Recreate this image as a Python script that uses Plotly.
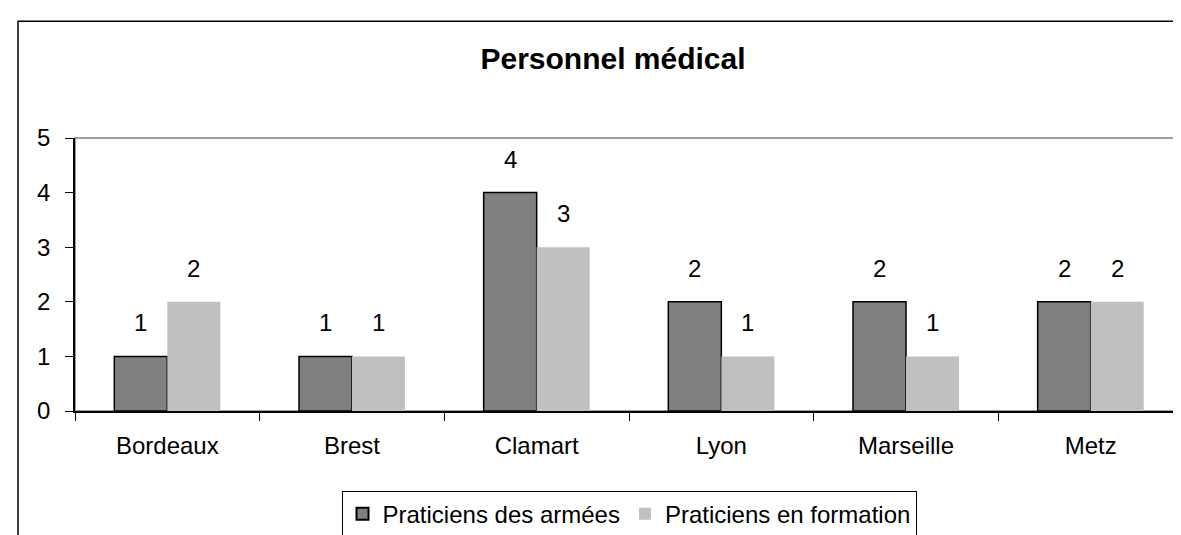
import plotly.graph_objects as go

categories = ["Bordeaux", "Brest", "Clamart", "Lyon", "Marseille", "Metz"]
praticiens_armees = [1, 1, 4, 2, 2, 2]
praticiens_formation = [2, 1, 3, 1, 1, 2]
series_names = ["Praticiens des armées", "Praticiens en formation"]
y_ticks = [0, 1, 2, 3, 4, 5]
title_text = "Personnel médical"

FONT = "Liberation Sans, Arial, sans-serif"
W, H = 1181, 535
L, R, T, B = 67, 6, 130, 127
pw = W - L - R
ph = H - T - B

fig = go.Figure()
fig.add_trace(go.Bar(
    x=categories, y=praticiens_armees, name=series_names[0],
    marker=dict(color="#808080", line=dict(color="#000000", width=1.5)),
))
fig.add_trace(go.Bar(
    x=categories, y=praticiens_formation, name=series_names[1],
    marker=dict(color="#C0C0C0", line=dict(color="#C0C0C0", width=0)),
))

# data labels
half = pw / len(categories) * (1 - 0.426) / 4
for vals, shift in ((praticiens_armees, -half), (praticiens_formation, half)):
    for c, v in zip(categories, vals):
        fig.add_annotation(x=c, y=v, text=str(v), showarrow=False,
                           xshift=shift, yshift=18, yanchor="bottom",
                           font=dict(family=FONT, size=24, color="black"))

# outer chart border (left & top edges visible)
fig.add_shape(type="rect", xref="paper", yref="paper",
              x0=(10 - L) / pw, x1=(W + 20 - L) / pw,
              y0=-(H + 20 - T - ph) / ph, y1=(T + ph - 11) / ph,
              line=dict(color="black", width=1.5), layer="below")
# plot area border (grey)
fig.add_shape(type="rect", xref="paper", yref="paper", x0=0, x1=1, y0=0, y1=1,
              line=dict(color="#808080", width=1.5), layer="below")

fig.update_layout(
    width=W, height=H,
    margin=dict(l=L, r=R, t=T, b=B),
    paper_bgcolor="white", plot_bgcolor="white",
    barmode="group", bargap=0.426, bargroupgap=0,
    font=dict(family=FONT, size=24, color="black"),
    title=dict(text="<b>" + title_text + "</b>", x=605 / W, xref="container",
               xanchor="center", y=1 - 50 / H, yref="container", yanchor="middle",
               font=dict(family=FONT, size=30, color="black")),
    showlegend=True,
    legend=dict(orientation="h", x=0.5, xanchor="center",
                y=-(489 - T - ph) / ph, yanchor="top",
                bordercolor="black", borderwidth=1,
                font=dict(family=FONT, size=24, color="black"),
                itemwidth=30, tracegroupgap=0,
                itemsizing="constant", traceorder="normal"),
)
fig.update_xaxes(
    showline=True, linecolor="black", linewidth=1.5,
    ticks="outside", tickson="boundaries", ticklen=8, tickcolor="black",
    tickwidth=1, showgrid=False, ticklabelstandoff=12,
    tickfont=dict(family=FONT, size=24, color="black"),
)
fig.update_yaxes(
    range=[0, 5], tickvals=y_ticks, showline=True, linecolor="black",
    linewidth=1.5, ticks="outside", ticklen=8, tickcolor="black", tickwidth=1,
    showgrid=False, zeroline=False, ticklabelstandoff=10,
    tickfont=dict(family=FONT, size=24, color="black"),
)

fig.write_html("out.html")
